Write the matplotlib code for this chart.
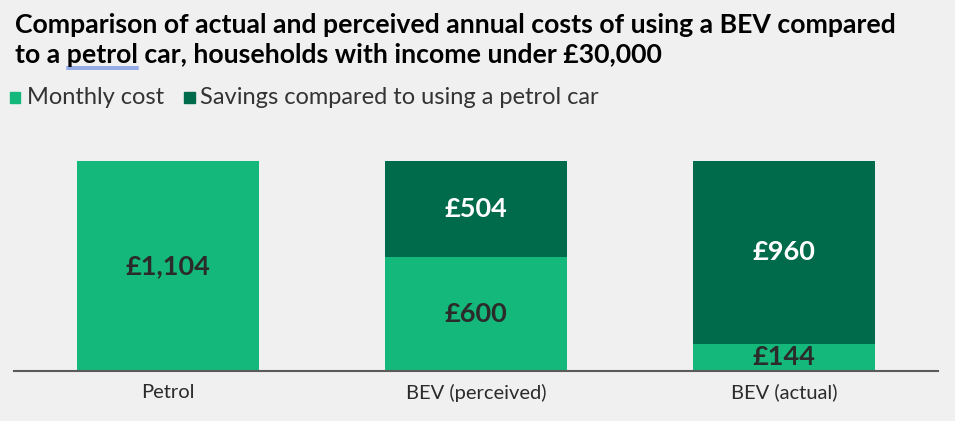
import matplotlib.pyplot as plt
from matplotlib.lines import Line2D

categories = ['Petrol', 'BEV (perceived)', 'BEV (actual)']
monthly_cost = [1104, 600, 144]
savings = [0, 504, 960]
labels_cost = ['£1,104', '£600', '£144']
labels_savings = ['', '£504', '£960']

light = '#14b87a'
dark = '#006b4a'
bg = '#f0f0f0'
txt = '#2b2b2b'

plt.rcParams['font.family'] = ['Lato', 'DejaVu Sans']

W, H = 955, 421
fig = plt.figure(figsize=(9.55, 4.21), dpi=100)
fig.patch.set_facecolor(bg)
ax = fig.add_axes([14/W, 50/H, 924/W, 231/H])
ax.set_facecolor(bg)

x = range(len(categories))
ax.bar(x, monthly_cost, width=0.588, color=light)
ax.bar(x, savings, width=0.588, bottom=monthly_cost, color=dark)

for i in x:
    ax.text(i, monthly_cost[i] / 2, labels_cost[i], ha='center', va='center',
            fontsize=19.5, fontweight='bold', color=txt)
    if savings[i]:
        ax.text(i, monthly_cost[i] + savings[i] / 2, labels_savings[i], ha='center',
                va='center', fontsize=19.5, fontweight='bold', color='white')

ax.set_xlim(-0.5, 2.5)
ax.set_ylim(0, 1215)
ax.set_yticks([])
ax.set_xticks(list(x))
ax.set_xticklabels(categories, fontsize=14.5, color=txt)
ax.tick_params(axis='x', length=0, pad=9)
for s in ['top', 'right', 'left']:
    ax.spines[s].set_visible(False)
ax.spines['bottom'].set_color('#5a5a5a')
ax.spines['bottom'].set_linewidth(1.5)

# title, two lines
tkw = dict(ha='left', va='baseline', fontsize=19.2, fontweight='bold', color='black')
fig.text(15/W, 1 - 33/H, 'Comparison of actual and perceived annual costs of using a BEV compared', **tkw)
fig.text(15/W, 1 - 63/H, 'to a petrol car, households with income under £30,000', **tkw)

# spellcheck-style underline under "petrol"
r = fig.canvas.get_renderer()
t1 = fig.text(0, 0, 'to a ', **tkw)
t2 = fig.text(0, 0, 'to a petrol', **tkw)
x0 = 15 + t1.get_window_extent(r).width
x1 = 15 + t2.get_window_extent(r).width
t1.remove()
t2.remove()
for yy in (67, 69):
    fig.add_artist(Line2D([x0/W, x1/W], [1 - yy/H, 1 - yy/H], color='#7a98e6', lw=1.1))

# legend
fig.patches.append(plt.Rectangle((10/W, 1 - 103/H), 10/W, 11/H,
                                 transform=fig.transFigure, color=light))
fig.text(27/W, 1 - 104/H, 'Monthly cost', ha='left', va='baseline', fontsize=17, color='#333333')
fig.patches.append(plt.Rectangle((184/W, 1 - 103/H), 11/W, 11/H,
                                 transform=fig.transFigure, color=dark))
fig.text(200/W, 1 - 104/H, 'Savings compared to using a petrol car', ha='left', va='baseline',
         fontsize=17, color='#333333')

fig.savefig('out.png', dpi=100, facecolor=bg)
